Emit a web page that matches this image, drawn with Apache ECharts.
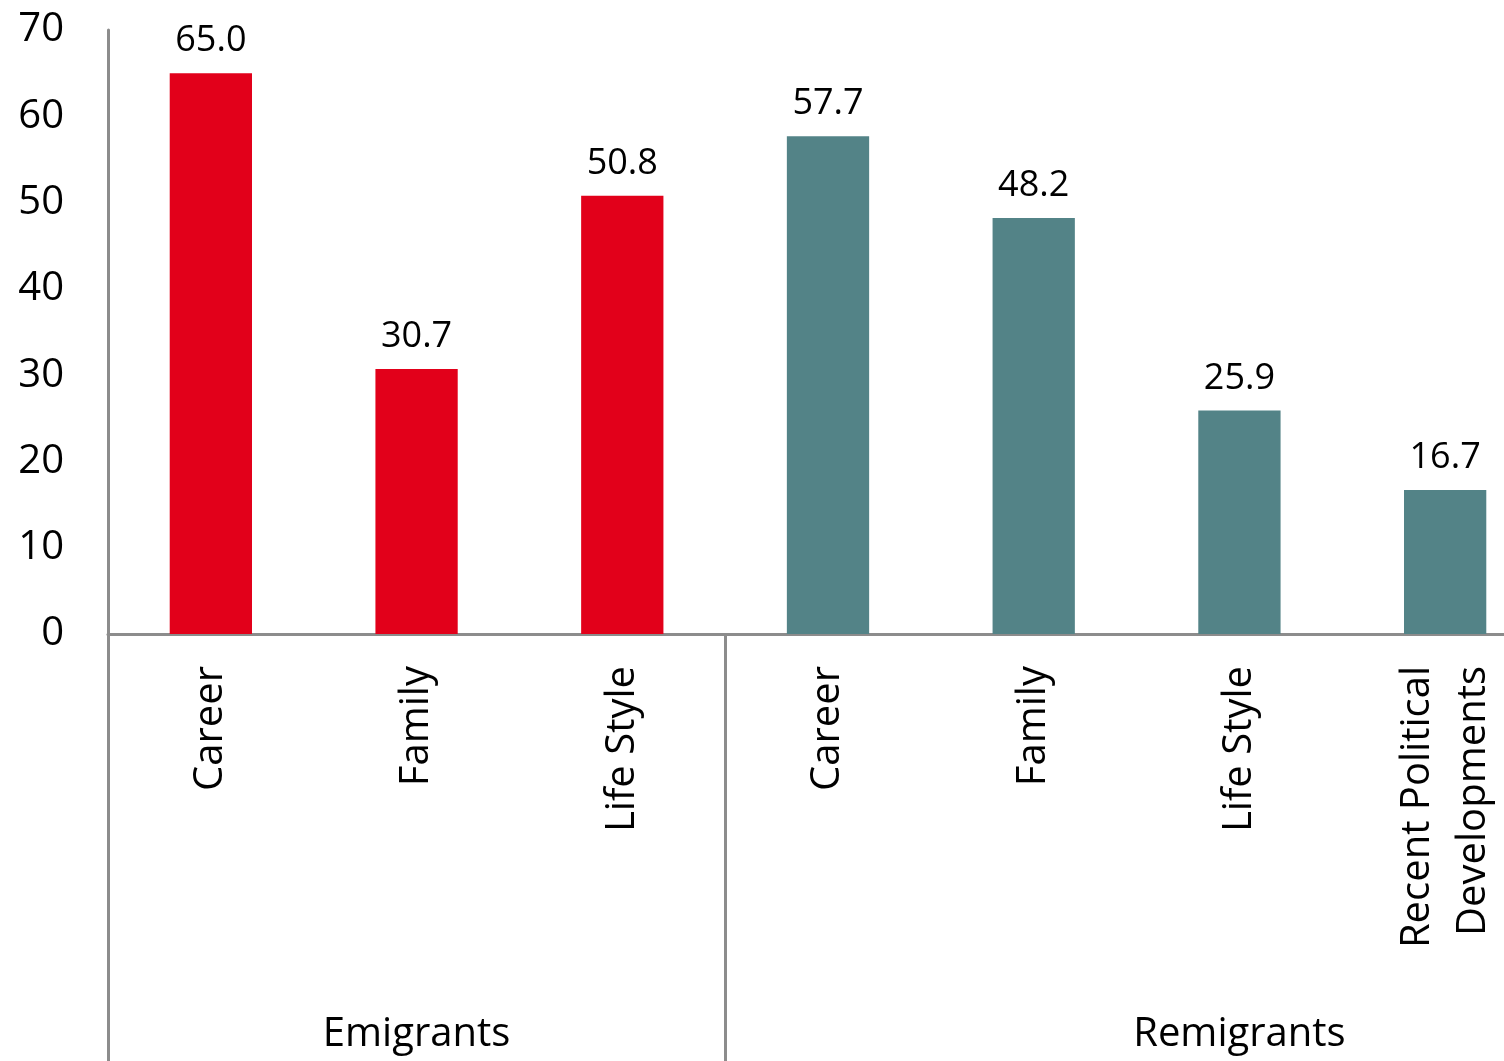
<!DOCTYPE html>
<html>
<head>
<meta charset="utf-8">
<script src="https://cdn.jsdelivr.net/npm/echarts@6/dist/echarts.min.js"></script>
<style>
  html, body { margin: 0; padding: 0; background: #fff; overflow: hidden; }
  /* the plot runs past the right edge of the picture, so the chart box is wider than the window */
  #chart { width: 1548px; height: 1061px; }
</style>
</head>
<body>
<div id="chart"></div>
<script>
// categories and values
const categories = ['Career', 'Family', 'Life Style', 'Career', 'Family', 'Life Style', 'Recent Political\nDevelopments'];
const values = [65.0, 30.7, 50.8, 57.7, 48.2, 25.9, 16.7];
const groupOf = [0, 0, 0, 1, 1, 1, 1];
// group label sits under the middle category of each group
const groupLabels = ['', 'Emigrants', '', '', '', 'Remigrants', ''];
const groupStart = [0, 3]; // category index where each group begins

const colors = ['#e2001a', '#538387'];
const axisGray = '#8c8c8c';
const font = '"Open Sans", Lato, sans-serif';

const chart = echarts.init(document.getElementById('chart'));

const option = {
  backgroundColor: '#fff',
  animation: false,
  grid: { left: 108, right: 0, top: 30, bottom: 427, containLabel: false },
  xAxis: [
    {
      type: 'category',
      data: categories,
      axisLine: { lineStyle: { color: axisGray, width: 3 } },
      axisTick: { show: false },
      axisLabel: {
        interval: 0,
        rotate: 90,
        margin: 32,
        fontSize: 40,
        fontFamily: font,
        color: '#000',
        lineHeight: 56
      }
    },
    {
      type: 'category',
      data: groupLabels,
      position: 'bottom',
      axisLine: { show: false },
      axisTick: {
        show: true,
        interval: (idx) => groupStart.includes(idx),
        length: 430,
        lineStyle: { color: axisGray, width: 3 }
      },
      axisLabel: {
        interval: 0,
        margin: 381,
        fontSize: 40,
        fontFamily: font,
        color: '#000'
      }
    }
  ],
  yAxis: {
    type: 'value',
    min: 0,
    max: 70,
    interval: 10,
    axisLine: { show: true, lineStyle: { color: axisGray, width: 3 } },
    axisTick: { show: false },
    splitLine: { show: false },
    axisLabel: {
      margin: 44,
      fontSize: 40,
      fontFamily: font,
      color: '#000'
    }
  },
  series: [
    {
      type: 'bar',
      xAxisIndex: 0,
      barWidth: '40%',
      data: values.map((v, i) => ({
        value: v,
        itemStyle: { color: colors[groupOf[i]] }
      })),
      label: {
        show: true,
        position: 'top',
        distance: 14,
        fontSize: 36,
        fontFamily: font,
        color: '#000',
        formatter: (p) => p.value.toFixed(1)
      }
    }
  ]
};

chart.setOption(option);
</script>
</body>
</html>
